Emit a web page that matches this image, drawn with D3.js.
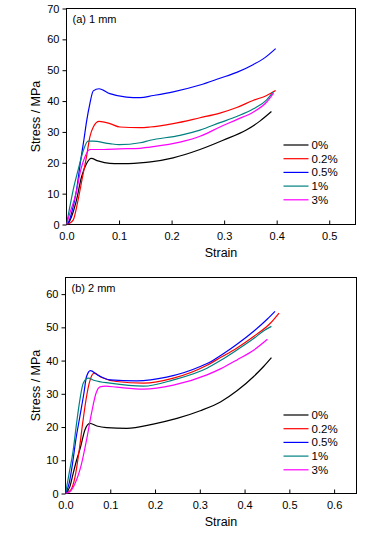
<!DOCTYPE html>
<html><head><meta charset="utf-8">
<script src="https://cdn.jsdelivr.net/npm/d3@7"></script>
<style>body{margin:0;background:#fff}svg{display:block}text{font-family:"Liberation Sans",Arial,sans-serif}</style>
</head><body><svg id="c" width="369" height="534"></svg>
<script>
const seriesNames = ["0%", "0.2%", "0.5%", "1%", "3%"];
const seriesColors = ["#000000", "#ff0000", "#0000ff", "#008080", "#ff00ff"];

// Panel (a) 1 mm : [strain, stress]
const a_0 = [[0,0],[0.004,0.5],[0.0095,2.5],[0.019,7.9],[0.0285,15.4],[0.038,19.7],[0.047,21.4],[0.06,20.6],[0.0825,19.8],[0.1,19.7],[0.14,20],[0.16,20.3],[0.203,21.6],[0.254,24.3],[0.298,27.3],[0.343,30.7],[0.368,33.5],[0.39,36.6]];
const a_02 = [[0,0],[0.005,0.3],[0.0127,1.4],[0.022,7.9],[0.0305,15.4],[0.038,21.9],[0.0445,28.4],[0.051,31.6],[0.062,33.4],[0.0825,32.7],[0.1016,31.6],[0.14,31.4],[0.159,31.6],[0.203,32.7],[0.254,34.6],[0.292,36.1],[0.324,37.9],[0.355,40.2],[0.381,41.8],[0.398,43.4]];
const a_05 = [[0,0],[0.004,0.8],[0.0095,3.6],[0.019,11.1],[0.027,20.8],[0.033,27.3],[0.038,33.2],[0.0445,39.2],[0.051,43.3],[0.062,44],[0.0825,42.4],[0.114,41.3],[0.14,41.1],[0.165,41.8],[0.203,43],[0.254,45.2],[0.292,47.4],[0.324,49.3],[0.355,51.8],[0.377,54],[0.398,57]];
const a_1 = [[0,0],[0.0063,5.7],[0.014,12.2],[0.022,17.6],[0.032,24],[0.041,27],[0.05,27],[0.0825,26.2],[0.1,25.9],[0.14,26.5],[0.159,27.3],[0.216,28.9],[0.254,30.6],[0.292,33],[0.324,35],[0.355,37.4],[0.381,40.4],[0.393,42.9]];
const a_3 = [[0,0],[0.0063,3.6],[0.018,10],[0.027,17.6],[0.035,21.9],[0.0445,24.3],[0.07,24.3],[0.101,24.5],[0.14,24.7],[0.159,25.1],[0.216,26.7],[0.254,28.6],[0.292,31.6],[0.324,34],[0.355,36.4],[0.381,39.7],[0.394,42.6]];

// Panel (b) 2 mm : [strain, stress]
const b_0 = [[0,0],[0.0096,2],[0.017,6],[0.0247,10],[0.0336,14],[0.0433,19.1],[0.0545,21.1],[0.07,20.3],[0.092,19.8],[0.137,19.6],[0.196,20.9],[0.249,22.6],[0.301,24.9],[0.347,27.6],[0.383,30.9],[0.421,35.3],[0.443,38.3],[0.46,40.9]];
const b_02 = [[0,0],[0.0116,1],[0.0213,5],[0.0306,13],[0.0383,21.1],[0.0457,28.1],[0.053,33.2],[0.064,36.2],[0.08,35],[0.114,33.7],[0.174,33.2],[0.241,34.7],[0.316,38.6],[0.346,40.9],[0.383,43.8],[0.421,47.3],[0.458,51.3],[0.477,54.3]];
const b_05 = [[0,0],[0.008,3],[0.0157,9],[0.023,16.1],[0.032,23.1],[0.041,30.1],[0.047,35.2],[0.0557,37],[0.07,35.8],[0.0995,34.2],[0.159,33.9],[0.226,35],[0.301,38.2],[0.33,40.1],[0.35,41.8],[0.383,44.9],[0.421,48.9],[0.451,52.5],[0.468,54.8]];
const b_1 = [[0,0],[0.008,6],[0.0172,13],[0.0247,21.1],[0.032,28.1],[0.0396,33.2],[0.0507,34.7],[0.065,34],[0.0995,33.2],[0.174,32.3],[0.241,34.2],[0.316,37.7],[0.346,40],[0.383,43.2],[0.421,46.7],[0.443,49],[0.46,50.3]];
const b_3 = [[0,0],[0.0096,0.5],[0.0213,3],[0.0359,9],[0.047,16.1],[0.058,24.1],[0.068,30.1],[0.077,32.1],[0.09,32.3],[0.114,32],[0.174,31.4],[0.241,32.6],[0.316,35.7],[0.346,37.5],[0.383,40.2],[0.421,43.2],[0.451,46.4]];

const panelLabels = ["(a) 1 mm", "(b) 2 mm"];
const xTicksA = [0, 0.1, 0.2, 0.3, 0.4, 0.5];
const yTicksA = [0, 10, 20, 30, 40, 50, 60, 70];
const xTicksB = [0, 0.1, 0.2, 0.3, 0.4, 0.5, 0.6];
const yTicksB = [0, 10, 20, 30, 40, 50, 60];

const svg = d3.select("#c");

function panel(cfg) {
  const g = svg.append("g");
  const x = d3.scaleLinear().domain(cfg.xDom).range([cfg.left, cfg.right]);
  const y = d3.scaleLinear().domain(cfg.yDom).range([cfg.bottom, cfg.top]);
  g.append("rect").attr("x", cfg.left).attr("y", cfg.top)
    .attr("width", cfg.right - cfg.left).attr("height", cfg.bottom - cfg.top)
    .attr("fill", "none").attr("stroke", "#000").attr("stroke-width", 1);
  const xa = g.append("g").attr("transform", `translate(0,${cfg.bottom})`)
    .call(d3.axisBottom(x).tickValues(cfg.xTicks).tickFormat(d3.format(".1f")).tickSizeInner(-4).tickSizeOuter(0).tickPadding(8));
  xa.select(".domain").remove();
  xa.selectAll("text").attr("font-size", 11).attr("fill", "#000").attr("font-family", "Liberation Sans, Arial, sans-serif");
  const ya = g.append("g").attr("transform", `translate(${cfg.left},0)`)
    .call(d3.axisLeft(y).tickValues(cfg.yTicks).tickFormat(d3.format("d")).tickSizeInner(4).tickSizeOuter(0).tickPadding(3));
  ya.select(".domain").remove();
  ya.selectAll("text").attr("font-size", 11).attr("fill", "#000").attr("font-family", "Liberation Sans, Arial, sans-serif");
  const cid = "clip" + cfg.id;
  svg.append("clipPath").attr("id", cid).append("rect")
    .attr("x", cfg.left).attr("y", cfg.top).attr("width", cfg.right - cfg.left).attr("height", cfg.bottom - cfg.top);
  const line = d3.line().x(d => x(d[0])).y(d => y(d[1])).curve(d3.curveMonotoneX);
  cfg.series.forEach((s, i) => {
    g.append("path").attr("d", line(s)).attr("fill", "none")
      .attr("stroke", seriesColors[i]).attr("stroke-width", 1.2).attr("clip-path", `url(#${cid})`);
  });
  seriesNames.forEach((n, i) => {
    const ly = cfg.legendY + i * 13.7;
    g.append("line").attr("x1", 283.5).attr("x2", 308.5).attr("y1", ly).attr("y2", ly)
      .attr("stroke", seriesColors[i]).attr("stroke-width", 1.2);
    g.append("text").attr("x", 311.5).attr("y", ly + 4).attr("font-size", 11.5).text(n);
  });
  g.append("text").attr("x", cfg.left + 6).attr("y", cfg.top + 14).attr("font-size", 11).text(cfg.label);
  g.append("text").attr("x", 221).attr("y", cfg.bottom + 32).attr("text-anchor", "middle").attr("font-size", 12.5).text("Strain");
  g.append("text").attr("transform", `translate(40,${(cfg.top + cfg.bottom) / 2}) rotate(-90)`)
    .attr("text-anchor", "middle").attr("font-size", 12.5).text("Stress / MPa");
}

panel({id: "a", left: 66.5, right: 355.5, top: 8.5, bottom: 224.5, xDom: [0, 0.55], yDom: [0, 70],
  xTicks: xTicksA, yTicks: yTicksA, series: [a_0, a_02, a_05, a_1, a_3], legendY: 145, label: panelLabels[0]});
panel({id: "b", left: 65.5, right: 356.5, top: 277.5, bottom: 493.5, xDom: [0, 0.65], yDom: [0, 65],
  xTicks: xTicksB, yTicks: yTicksB, series: [b_0, b_02, b_05, b_1, b_3], legendY: 415, label: panelLabels[1]});
</script></body></html>
